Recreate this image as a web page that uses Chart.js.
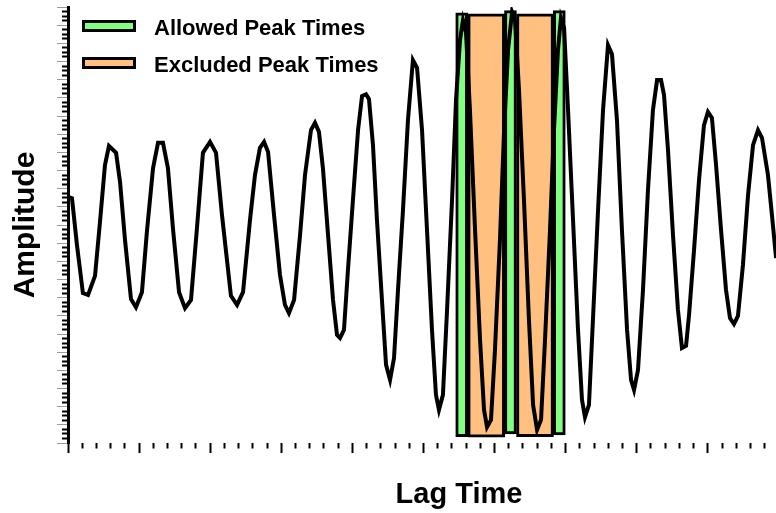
<!DOCTYPE html>
<html>
<head>
<meta charset="utf-8">
<title>Lag Time</title>
<script src="https://cdn.jsdelivr.net/npm/chart.js@4.4.1/dist/chart.umd.min.js"></script>
<style>
    html, body { margin: 0; padding: 0; overflow: hidden; background: #fff; }
    #wrap { position: relative; width: 850px; height: 513px; }
    #legend {
        position: absolute; left: 82px; top: 17px; margin: 0; padding: 0; list-style: none;
        font: bold 22px "Liberation Sans", Arial, sans-serif; color: #000;
    }
    #legend li { display: flex; align-items: flex-start; height: 22px; line-height: 22px; margin-bottom: 15px; white-space: nowrap; }
    #legend .box { box-sizing: border-box; width: 54px; height: 12px; margin-top: 3px; margin-right: 18px; border: 3px solid #000; }
</style>
</head>
<body>
<div id="wrap">
    <canvas id="chart" width="850" height="513"></canvas>
    <ul id="legend"></ul>
</div>
<script>
const lagTimes = [
    0, 0.28, 0.63, 1.05, 1.41, 1.90, 2.25, 2.60, 2.88, 3.38, 3.66, 4.01, 4.43, 4.78, 5.20, 5.56,
    5.98, 6.33, 6.68, 7.03, 7.38, 7.81, 8.23, 8.65, 9.07, 9.49, 9.99, 10.41, 10.83, 11.46, 11.89, 12.31,
    12.80, 13.15, 13.50, 13.79, 14.07, 14.49, 14.91, 15.26, 15.54, 15.90, 16.32, 16.67, 17.09, 17.37, 17.65, 17.93,
    18.29, 18.64, 18.92, 19.13, 19.41, 19.69, 20.04, 20.40, 20.68, 20.96, 21.17, 21.45, 21.73, 22.08, 22.37, 22.65,
    22.93, 23.21, 23.56, 23.91, 24.26, 24.55, 24.90, 25.25, 25.60, 25.88, 26.09, 26.37, 26.66, 27.01, 27.29, 27.57,
    27.78, 27.99, 28.27, 28.63, 28.98, 29.26, 29.47, 29.75, 30.03, 30.38, 30.67, 30.95, 31.23, 31.44, 31.72, 32.07,
    32.42, 32.71, 32.99, 33.27, 33.55, 33.90, 34.18, 34.46, 34.67, 34.89, 35.17, 35.52, 35.87, 36.15, 36.36, 36.64,
    36.92, 37.28, 37.63, 37.98, 38.26, 38.61, 38.96, 39.32, 39.60, 39.81, 40.09, 40.44, 40.79, 41.14, 41.43, 41.71,
    41.92, 42.20, 42.55, 42.90, 43.18, 43.47, 43.68, 44.03, 44.38, 44.73, 45.01, 45.29, 45.58, 45.93, 46.28, 46.56,
    46.84, 47.12, 47.47, 47.83, 48.18, 48.53, 48.81, 49.23, 49.51, 49.80
];

const amplitudes = [
    6.2, 5.9, -4.4, -15.0, -15.4, -11.2, 0.7, 13.2, 17.4, 15.9, 9.5, -3.3, -16.3, -18.1, -14.8, -1.1,
    12.5, 18.1, 18.1, 12.5, -0.7, -14.8, -18.3, -16.5, -0.7, 15.9, 18.3, 15.9, 2.2, -15.6, -17.6, -14.8,
    1.1, 11.0, 17.0, 18.3, 16.1, 2.2, -11.0, -17.6, -19.4, -16.5, -2.2, 11.0, 20.9, 22.5, 20.5, 12.5,
    -2.2, -16.5, -24.2, -24.9, -23.1, -9.9, 5.5, 20.9, 28.4, 28.8, 27.7, 17.6, 1.1, -16.5, -30.8, -34.1,
    -29.3, -14.3, 3.3, 23.1, 36.3, 34.6, 20.9, -1.1, -23.1, -37.4, -40.7, -37.4, -18.7, 5.5, 27.5, 40.7,
    45.1, 42.5, 25.3, -1.1, -25.3, -40.7, -44.5, -42.9, -27.5, -3.3, 20.9, 38.5, 46.9, 45.1, 29.7, 5.5,
    -20.9, -39.6, -45.1, -42.9, -25.3, -1.1, 20.9, 38.5, 45.6, 43.4, 25.3, 1.1, -23.1, -38.5, -42.3, -39.6,
    -20.9, 3.3, 25.3, 39.6, 37.6, 23.1, -1.1, -23.1, -34.1, -36.3, -31.9, -14.3, 7.7, 25.3, 31.9, 31.9,
    28.6, 16.5, -2.2, -18.7, -27.1, -26.6, -19.8, -5.5, 9.9, 22.0, 24.9, 23.6, 13.2, -1.1, -14.3, -20.5,
    -21.8, -20.0, -8.8, 6.6, 17.6, 20.9, 19.2, 11.0, 2.2, -7.3
];

// peak-time windows: start / end lag, bottom / top amplitude
const allowedStart = [27.25, 30.70, 34.15];
const allowedEnd = [28.13, 31.54, 34.96];
const allowedLow = [-46.6, -46.0, -46.2];
const allowedHigh = [46.7, 47.2, 47.2];

const excludedStart = [28.13, 31.54];
const excludedEnd = [30.70, 34.15];
const excludedLow = [-46.7, -46.6];
const excludedHigh = [46.5, 46.5];

const FONT = '"Liberation Sans", Arial, sans-serif';

function windowBars(starts, ends, lows, highs) {
    return starts.map((s, i) => ({ x: (s + ends[i]) / 2, y: [lows[i], highs[i]] }));
}

// true for ticks that sit on a major division
function isMajor(ctx, every) {
    return !ctx.tick || Math.round(ctx.tick.value) % every === 0;
}

// legend built from the bar datasets, placed over the plot
const htmlLegend = {
    id: 'htmlLegend',
    afterUpdate(chart) {
        const list = document.getElementById('legend');
        list.innerHTML = '';
        chart.data.datasets.forEach(ds => {
            if (ds.type !== 'bar') return;
            const li = document.createElement('li');
            const box = document.createElement('span');
            box.className = 'box';
            box.style.background = ds.backgroundColor;
            li.appendChild(box);
            li.appendChild(document.createTextNode(ds.label));
            list.appendChild(li);
        });
    }
};

new Chart(document.getElementById('chart'), {
    type: 'line',
    data: {
        datasets: [
            {
                label: 'Amplitude',
                data: lagTimes.map((t, i) => ({ x: t, y: amplitudes[i] })),
                borderColor: '#000',
                borderWidth: 4,
                pointRadius: 0,
                tension: 0,
                fill: false,
                order: 0
            },
            {
                type: 'bar',
                label: 'Allowed Peak Times',
                data: windowBars(allowedStart, allowedEnd, allowedLow, allowedHigh),
                backgroundColor: '#80ff80',
                borderColor: '#000',
                borderWidth: 3,
                borderSkipped: false,
                barThickness: 12,
                grouped: false,
                order: 1
            },
            {
                type: 'bar',
                label: 'Excluded Peak Times',
                data: windowBars(excludedStart, excludedEnd, excludedLow, excludedHigh),
                backgroundColor: '#ffc080',
                borderColor: '#000',
                borderWidth: 3,
                borderSkipped: false,
                barThickness: 37,
                grouped: false,
                order: 1
            }
        ]
    },
    options: {
        responsive: false,
        animation: false,
        devicePixelRatio: 1,
        layout: { padding: { top: 7, right: 0, bottom: 0, left: 0 } },
        plugins: {
            legend: { display: false },
            tooltip: { enabled: false }
        },
        scales: {
            x: {
                type: 'linear',
                min: 0,
                max: 55,
                offset: false,
                ticks: { display: false, stepSize: 1, maxTicksLimit: 200 },
                border: { display: false },
                grid: {
                    offset: false,
                    drawOnChartArea: false,
                    tickLength: 10,
                    tickColor: '#000',
                    tickWidth: 2,
                    tickBorderDash: (ctx) => isMajor(ctx, 5) ? [] : [5.5, 20]
                },
                title: {
                    display: true,
                    text: 'Lag Time',
                    color: '#000',
                    font: { family: FONT, size: 29, weight: 'bold' },
                    padding: { top: 0, bottom: 1 }
                },
                afterFit(scale) { scale.height = 70; }
            },
            y: {
                type: 'linear',
                min: -48,
                max: 48,
                ticks: { display: false, stepSize: 1, maxTicksLimit: 200 },
                border: { display: true, color: '#000', width: 3 },
                grid: {
                    drawOnChartArea: false,
                    tickLength: 11,
                    tickColor: (ctx) => isMajor(ctx, 4) ? '#9a9a9a' : '#000',
                    tickWidth: (ctx) => isMajor(ctx, 4) ? 1 : 2,
                    tickBorderDash: (ctx) => isMajor(ctx, 4) ? [] : [0, 5, 8, 40]
                },
                title: {
                    display: true,
                    text: 'Amplitude',
                    color: '#000',
                    font: { family: FONT, size: 30, weight: 'bold' },
                    padding: { top: 8, bottom: 0 }
                },
                afterFit(scale) { scale.width = 68; }
            }
        }
    },
    plugins: [htmlLegend]
});
</script>
</body>
</html>
